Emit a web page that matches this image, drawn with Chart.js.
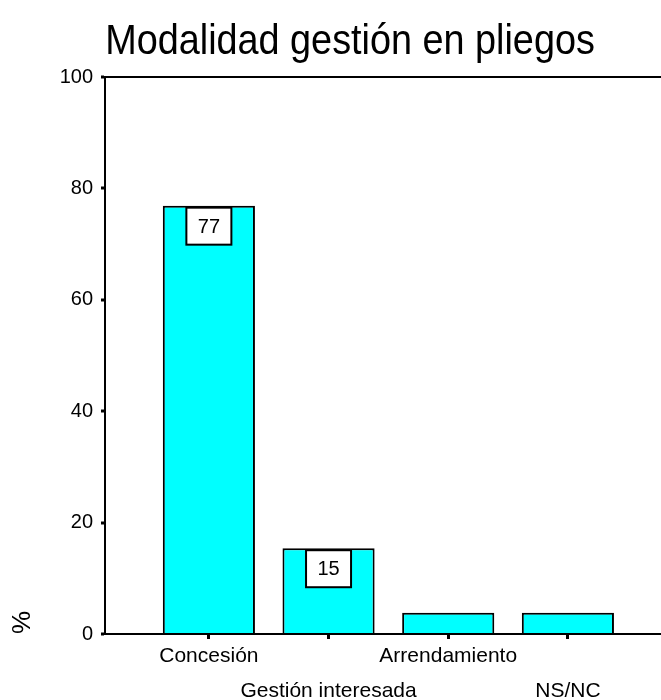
<!DOCTYPE html>
<html>
<head>
<meta charset="utf-8">
<title>Modalidad gestión en pliegos</title>
<script src="https://cdn.jsdelivr.net/npm/chart.js@4/dist/chart.umd.min.js"></script>
<style>
  html, body { margin: 0; padding: 0; background: #ffffff; }
  canvas { display: block; }
</style>
</head>
<body>
<canvas id="chart" width="661" height="700"></canvas>
<script>
// Modalidad de gestión recogida en los pliegos (% sobre el total)
const titleText = 'Modalidad gestión en pliegos';
const categories = ['Concesión', 'Gestión interesada', 'Arrendamiento', 'NS/NC'];
const percentages = [76.9, 15.4, 3.8, 3.8];
const yTicks = [0, 20, 40, 60, 80, 100];
const yAxisTitle = '%';

const FONT = '"Liberation Sans", Arial, sans-serif';

// Title, drawn slightly narrowed
const titlePlugin = {
  id: 'condensedTitle',
  afterDraw(chart) {
    const ctx = chart.ctx;
    ctx.save();
    ctx.font = '42px ' + FONT;
    ctx.fillStyle = '#000';
    ctx.textAlign = 'center';
    ctx.textBaseline = 'alphabetic';
    ctx.translate(350, 54);
    ctx.scale(0.9, 1);
    ctx.fillText(titleText, 0, 0);
    ctx.restore();
  }
};

// Boxed value labels inside the top of the taller bars
const valueBoxPlugin = {
  id: 'valueBoxes',
  afterDatasetsDraw(chart) {
    const ctx = chart.ctx;
    const meta = chart.getDatasetMeta(0);
    const boxW = 45, boxH = 37;
    ctx.save();
    meta.data.forEach((bar, i) => {
      const height = bar.base - bar.y;
      if (height < boxH + 10) return;
      const left = bar.x - boxW / 2;
      const top = bar.y + 2;
      ctx.fillStyle = '#ffffff';
      ctx.fillRect(left, top, boxW, boxH);
      ctx.strokeStyle = '#000';
      ctx.lineWidth = 2;
      ctx.strokeRect(left, top, boxW, boxH);
      ctx.fillStyle = '#000';
      ctx.font = '20px ' + FONT;
      ctx.textAlign = 'center';
      ctx.textBaseline = 'middle';
      ctx.fillText(String(Math.round(percentages[i])), bar.x, top + boxH / 2 + 1);
    });
    ctx.restore();
  }
};

new Chart(document.getElementById('chart'), {
  type: 'bar',
  data: {
    datasets: [{
      data: percentages.map((v, i) => ({ x: i, y: v })),
      backgroundColor: '#00ffff',
      borderColor: '#000000',
      borderWidth: 2,
      borderSkipped: 'bottom',
      categoryPercentage: 1,
      barPercentage: 0.77
    }]
  },
  options: {
    responsive: false,
    animation: false,
    layout: { padding: { top: 77, right: 0, bottom: 0, left: 0 } },
    plugins: {
      legend: { display: false },
      title: { display: false },
      tooltip: { enabled: false }
    },
    scales: {
      x: {
        type: 'linear',
        offset: false,
        min: -0.868,
        max: 3.778,
        afterBuildTicks(scale) {
          scale.ticks = categories.map((_, i) => ({ value: i }));
        },
        afterFit(scale) { scale.height = 66; },
        grid: {
          offset: false,
          drawOnChartArea: false,
          drawTicks: true,
          tickLength: 5,
          tickWidth: 3,
          tickColor: '#000'
        },
        border: { display: true, color: '#000', width: 2 },
        ticks: {
          autoSkip: false,
          maxRotation: 0,
          padding: 0,
          color: '#000',
          font: { family: FONT, size: 21, lineHeight: 1.667 },
          callback(value) {
            const i = Math.round(value);
            const name = categories[i];
            return i % 2 === 0 ? name : ['', name];
          }
        }
      },
      y: {
        min: 0,
        max: 100,
        afterBuildTicks(scale) {
          scale.ticks = yTicks.map(v => ({ value: v }));
        },
        afterFit(scale) { scale.width = 105; },
        grid: {
          drawOnChartArea: true,
          drawTicks: true,
          tickLength: 4,
          tickWidth: 3,
          tickColor: '#000',
          lineWidth: 2,
          color: (c) => (c.tick && c.tick.value === 100 ? '#000' : 'rgba(0,0,0,0)')
        },
        border: { display: true, color: '#000', width: 2 },
        ticks: {
          padding: 8,
          color: '#000',
          font: { family: FONT, size: 20 }
        },
        title: {
          display: true,
          text: yAxisTitle,
          align: 'start',
          color: '#000',
          font: { family: FONT, size: 26, lineHeight: 1 },
          padding: { top: 10, bottom: 0 }
        }
      }
    }
  },
  plugins: [titlePlugin, valueBoxPlugin]
});
</script>
</body>
</html>
